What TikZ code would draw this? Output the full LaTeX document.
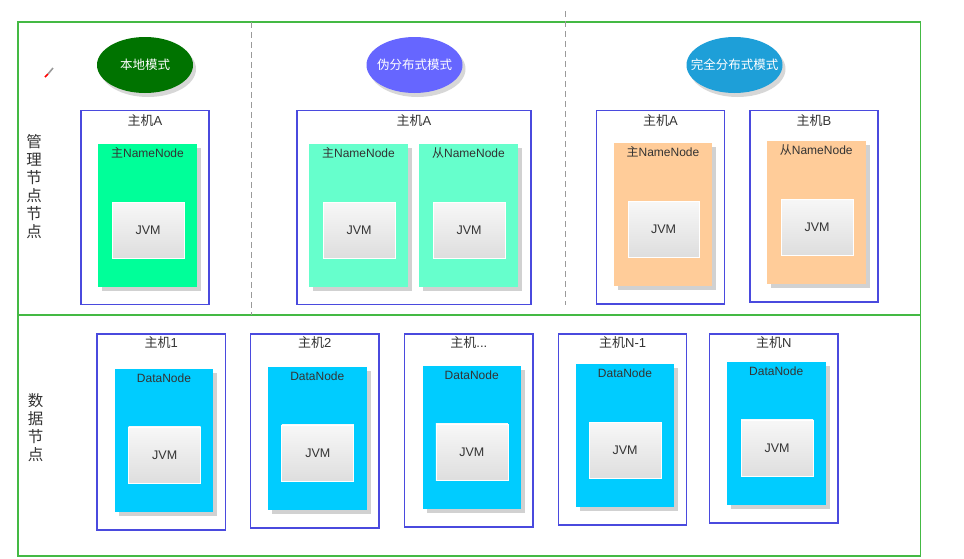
\documentclass[tikz,border=0pt]{standalone}
\usepackage{fontspec}
\setmainfont{Liberation Sans}
\newfontfamily\cjk{Noto Sans CJK SC}
\usetikzlibrary{shapes.geometric,shadows}
\definecolor{framegreen}{HTML}{44B944}
\definecolor{hostblue}{HTML}{4A4ADE}
\definecolor{txtgray}{HTML}{333333}
\definecolor{localgreen}{HTML}{007300}
\definecolor{pseudoblue}{HTML}{6666FF}
\definecolor{fullblue}{HTML}{1E9FD8}
\definecolor{nnlocal}{HTML}{00FF99}
\definecolor{nnpseudo}{HTML}{66FFCC}
\definecolor{nnfull}{HTML}{FFCC99}
\definecolor{dncol}{HTML}{00CCFF}
\definecolor{dashgray}{HTML}{9A9A9A}
\begin{document}
\begin{tikzpicture}[x=1pt,y=-1pt,
  hostrect/.style={draw=hostblue, line width=1.2pt, fill=white, inner sep=0pt},
  procbox/.style={fill=#1, draw=none, inner sep=0pt,
    drop shadow={shadow xshift=4pt, shadow yshift=-4pt, fill=black!40, opacity=.45}},
  jvmbox/.style={draw=white, line width=0.8pt, top color=white!97!black, bottom color=white!87!black,
    inner sep=0pt, minimum width=72pt, minimum height=56pt, text=txtgray, font=\fontsize{12.5}{14}\selectfont},
  modeell/.style={ellipse, fill=#1, minimum width=96pt, minimum height=56pt, inner sep=0pt,
    drop shadow={shadow xshift=3pt, shadow yshift=-4pt, fill=black!35, opacity=.45}},
  modelbl/.style={text=white, inner sep=0pt, font=\cjk\fontsize{12.5}{14}\selectfont},
  hostlbl/.style={text=txtgray, inner sep=0pt, font=\fontsize{13}{15}\selectfont},
  proclbl/.style={text=txtgray, inner sep=0pt, font=\fontsize{12}{14}\selectfont},
  sidelbl/.style={text=txtgray, inner sep=0pt, align=center, font=\cjk\fontsize{15.5}{18}\selectfont},
  sep/.style={draw=dashgray, line width=1pt, dash pattern=on 6pt off 4pt}
]
\useasboundingbox (0,0) rectangle (964,558);

% outer frame and divider
\coordinate (tl) at (18,22); \coordinate (br) at (920.5,556);
\coordinate (ml) at (18,315); \coordinate (mr) at (920.5,315);
\draw[framegreen, line width=1.3pt] (tl) rectangle (br);
\draw[framegreen, line width=1.3pt] (ml) -- (mr);

% dashed separators
\coordinate (d1t) at (251,22); \coordinate (d1b) at (251,315);
\coordinate (d2t) at (565,11); \coordinate (d2b) at (565,305);
\draw[sep] (d1t) -- (d1b);
\draw[sep] (d2t) -- (d2b);

% side labels
\node[sidelbl] (mgr) at (34,186.5) {管\\理\\节\\点\\节\\点};
\node[sidelbl] (dat) at (35.5,427.5) {数\\据\\节\\点};

% small pencil cursor
\coordinate (p1) at (45,77); \coordinate (p2) at (48,74); \coordinate (p3) at (53,68);
\draw[line width=1.6pt, white!60!black] (p2) -- (p3);
\draw[line width=1.6pt, red] (p1) -- (p2);

% mode ellipses
\node[modeell=localgreen] (m1) at (145,65) {};
\node[modelbl] (m1l) at (m1) {本地模式};
\node[modeell=pseudoblue] (m2) at (414.5,65) {};
\node[modelbl] (m2l) at (m2) {伪分布式模式};
\node[modeell=fullblue] (m3) at (734.5,65) {};
\node[modelbl] (m3l) at (m3) {完全分布式模式};

% ---------- local mode ----------
\node[hostrect, minimum width=128pt, minimum height=194pt] (hA1) at (145,207.5) {};
\node[hostlbl] (hA1l) at (145,121) {{\cjk 主机}A};
\node[procbox=nnlocal, minimum width=99pt, minimum height=143pt] (nn1) at (147.5,215) {};
\node[proclbl] (nn1l) at (147.5,153) {{\cjk 主}NameNode};
\node[jvmbox] (j1) at (148,230) {JVM};

% ---------- pseudo-distributed ----------
\node[hostrect, minimum width=234pt, minimum height=194pt] (hA2) at (414,207.5) {};
\node[hostlbl] (hA2l) at (414,121) {{\cjk 主机}A};
\node[procbox=nnpseudo, minimum width=99pt, minimum height=143pt] (nn2a) at (358.5,215) {};
\node[proclbl] (nn2al) at (358.5,153) {{\cjk 主}NameNode};
\node[jvmbox] (j2a) at (359,230) {JVM};
\node[procbox=nnpseudo, minimum width=99pt, minimum height=143pt] (nn2b) at (468.5,215) {};
\node[proclbl] (nn2bl) at (468.5,153) {{\cjk 从}NameNode};
\node[jvmbox] (j2b) at (469,230) {JVM};

% ---------- fully distributed ----------
\node[hostrect, minimum width=128pt, minimum height=193.5pt] (hA3) at (660.5,207.25) {};
\node[hostlbl] (hA3l) at (660.5,121) {{\cjk 主机}A};
\node[procbox=nnfull, minimum width=98pt, minimum height=143pt] (nn3a) at (663,214.2) {};
\node[proclbl] (nn3al) at (663,152) {{\cjk 主}NameNode};
\node[jvmbox, minimum width=71pt] (j3a) at (663.5,229) {JVM};

\node[hostrect, minimum width=128pt, minimum height=191.5pt] (hB3) at (814,206.25) {};
\node[hostlbl] (hB3l) at (814,121) {{\cjk 主机}B};
\node[procbox=nnfull, minimum width=98.5pt, minimum height=143pt] (nn3b) at (816.25,212.2) {};
\node[proclbl] (nn3bl) at (816.25,150) {{\cjk 从}NameNode};
\node[jvmbox] (j3b) at (817,227) {JVM};

% ---------- data nodes ----------
\node[hostrect, minimum width=128.5pt, minimum height=196pt] (h1) at (161.25,432) {};
\node[hostlbl] (h1l) at (161.25,343) {{\cjk 主机}1};
\node[procbox=dncol, minimum width=98pt, minimum height=142.7pt] (dn1) at (164,440.3) {};
\node[proclbl] (dn1l) at (164,378) {DataNode};
\node[jvmbox, minimum height=56.7pt] (jd1) at (164.7,455.3) {JVM};

\node[hostrect, minimum width=128.3pt, minimum height=194pt] (h2) at (314.85,431) {};
\node[hostlbl] (h2l) at (314.85,343) {{\cjk 主机}2};
\node[procbox=dncol, minimum width=98.7pt, minimum height=143pt] (dn2) at (317.3,438.5) {};
\node[proclbl] (dn2l) at (317.3,376) {DataNode};
\node[jvmbox, minimum height=56.7pt] (jd2) at (317.8,453.3) {JVM};

\node[hostrect, minimum width=128.4pt, minimum height=193pt] (h3) at (468.8,430.5) {};
\node[hostlbl] (h3l) at (468.8,343) {{\cjk 主机}...};
\node[procbox=dncol, minimum width=98.2pt, minimum height=143pt] (dn3) at (471.7,437.5) {};
\node[proclbl] (dn3l) at (471.7,375) {DataNode};
\node[jvmbox, minimum height=56.7pt] (jd3) at (471.9,452.3) {JVM};

\node[hostrect, minimum width=128.2pt, minimum height=191pt] (h4) at (622.6,429.5) {};
\node[hostlbl] (h4l) at (622.6,343) {{\cjk 主机}N-1};
\node[procbox=dncol, minimum width=98pt, minimum height=143pt] (dn4) at (625,435.5) {};
\node[proclbl] (dn4l) at (625,373) {DataNode};
\node[jvmbox, minimum height=56pt] (jd4) at (625,450.7) {JVM};

\node[hostrect, minimum width=128.2pt, minimum height=189pt] (h5) at (773.9,428.5) {};
\node[hostlbl] (h5l) at (773.9,343) {{\cjk 主机}N};
\node[procbox=dncol, minimum width=98.5pt, minimum height=143pt] (dn5) at (776.25,433.5) {};
\node[proclbl] (dn5l) at (776.25,371) {DataNode};
\node[jvmbox, minimum height=56.7pt] (jd5) at (777,448.3) {JVM};
\end{tikzpicture}
\end{document}
